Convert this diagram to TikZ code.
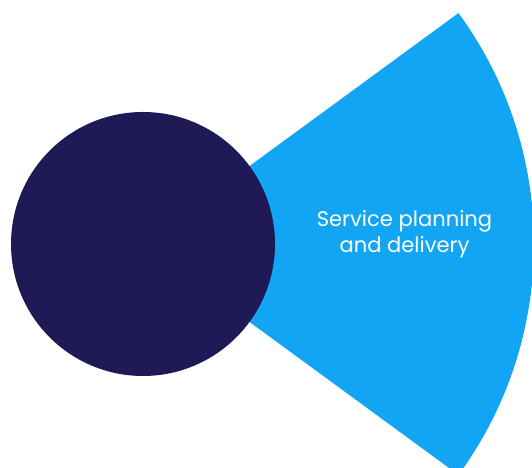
\documentclass[tikz,border=0pt]{standalone}
\usepackage{fontspec}
\setmainfont{Poppins}
\definecolor{sectorblue}{HTML}{12A5F4}
\definecolor{hubnavy}{HTML}{1F1A55}
\tikzset{hub/.style={circle,fill=hubnavy,inner sep=0pt,minimum size=5.28cm}}
\begin{document}
\begin{tikzpicture}
\useasboundingbox (0,0) rectangle (10.64,9.36);
\clip (0,0) rectangle (10.64,9.36);
\coordinate (centre) at (2.86,4.48);
\fill [sectorblue] (centre) -- ++(36.2:7.82) arc [start angle=36.2,end angle=-36.2,radius=7.82] -- cycle;
\node [hub] (hubdisc) at (centre) {};
\node [align=center,text=white,font=\fontsize{12}{14.8}\selectfont] (service) at (8.09,4.68) {Service planning\\and delivery};
\end{tikzpicture}
\end{document}
